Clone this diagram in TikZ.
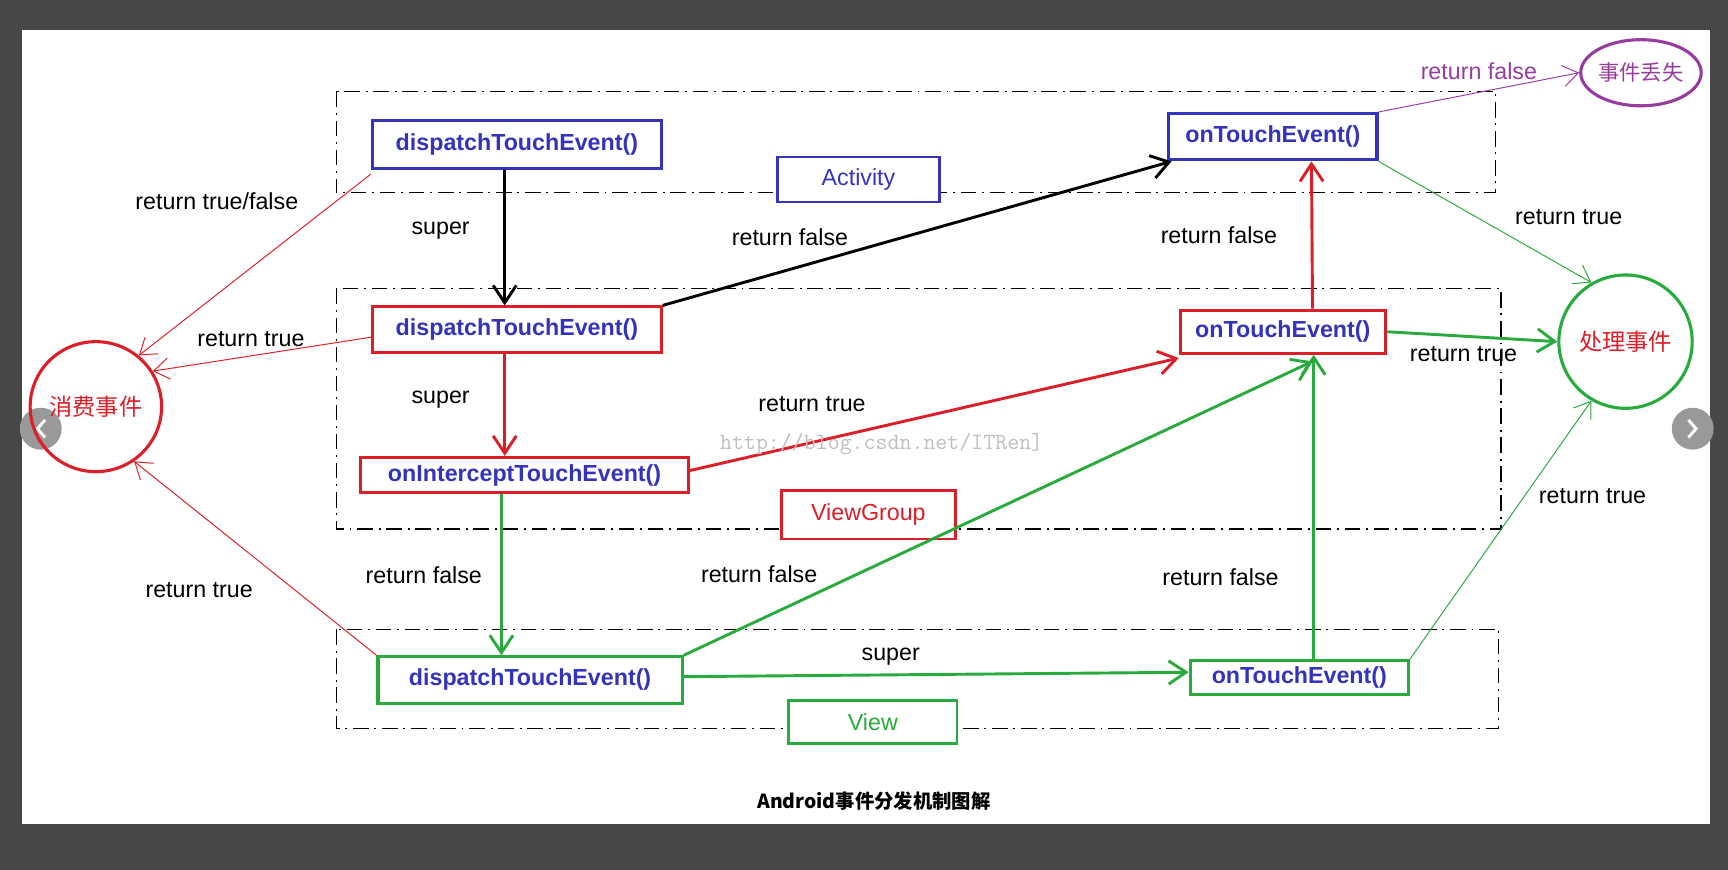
\documentclass[tikz,border=0pt]{standalone}
\usepackage{fontspec}
\setmainfont{Liberation Sans}
\newfontfamily\cjk{Noto Sans CJK SC}
\usetikzlibrary{arrows.meta, shapes.geometric}
\definecolor{boxblue}{RGB}{51,51,187}
\definecolor{boxred}{RGB}{220,30,40}
\definecolor{boxgreen}{RGB}{40,170,60}
\definecolor{lostpurple}{RGB}{150,60,160}
\tikzset{
    fn/.style={draw, line width=1.6pt, text=boxblue, font=\fontsize{12}{14}\selectfont\bfseries, inner sep=0pt},
    layer/.style={draw, fill=white, line width=1.3pt, font=\fontsize{12}{14}\selectfont, inner sep=0pt},
    lbl/.style={font=\fontsize{12}{14}\selectfont},
    zone/.style={dashed, dash pattern=on 8pt off 3pt on 1pt off 3pt, line width=0.6pt},
    thick arrow/.style={line width=1.5pt, -{Straight Barb[length=9pt,width=12pt]}},
    thin arrow/.style={line width=0.5pt, -{Straight Barb[length=8pt,width=11pt]}}
}
\begin{document}
\begin{tikzpicture}[x=0.02cm, y=-0.02cm]
    \useasboundingbox (0,0) rectangle (1568,789);
    \fill[black!72] (0,0) rectangle (1568,789);
    \fill[white] (20,27) rectangle (1552,748);
    \fill[black!40] (37,389) circle (19) (1536,389) circle (19);
    \draw[white, line width=1.5pt] (41,381) -- (34,389) -- (41,397) (1532,381) -- (1539,389) -- (1532,397);

    % layers
    \draw[zone] (305,83) rectangle (1357,175);
    \draw[zone] (305,262) rectangle (1362,480);
    \draw[zone] (305,571) rectangle (1360,661);

    \node[fn, draw=boxblue, minimum width=262*0.02cm, minimum height=43*0.02cm] (adisp) at (469,131) {dispatchTouchEvent()};
    \node[fn, draw=boxblue, minimum width=189*0.02cm, minimum height=42*0.02cm] (atouch) at (1155,124) {onTouchEvent()};
    \node[layer, draw=boxblue, text=boxblue, minimum width=147*0.02cm, minimum height=41*0.02cm] (alabel) at (779,163) {Activity};

    \node[fn, draw=boxred, minimum width=262*0.02cm, minimum height=41*0.02cm] (gdisp) at (469,299) {dispatchTouchEvent()};
    \node[fn, draw=boxred, minimum width=186*0.02cm, minimum height=39*0.02cm] (gtouch) at (1164,301) {onTouchEvent()};
    \node[fn, draw=boxred, minimum width=297*0.02cm, minimum height=32*0.02cm] (gint) at (476,431) {onInterceptTouchEvent()};
    \node[layer, draw=boxred, text=boxred, minimum width=158*0.02cm, minimum height=44*0.02cm] (glabel) at (788,467) {ViewGroup};

    \node[fn, draw=boxgreen, minimum width=276*0.02cm, minimum height=42*0.02cm] (vdisp) at (481,617) {dispatchTouchEvent()};
    \node[fn, draw=boxgreen, minimum width=198*0.02cm, minimum height=31*0.02cm] (vtouch) at (1179,615) {onTouchEvent()};
    \node[layer, draw=boxgreen, text=boxgreen, minimum width=153*0.02cm, minimum height=39*0.02cm] (vlabel) at (792,655) {View};

    \node[ellipse, draw=boxred, line width=1.6pt, text=boxred, font=\cjk\fontsize{12}{14}\selectfont, minimum width=95*0.02cm, minimum height=118*0.02cm, inner sep=0pt] (consume) at (87,369) {消费事件};
    \node[circle, draw=boxgreen, line width=1.6pt, text=boxred, font=\cjk\fontsize{12}{14}\selectfont, minimum size=121*0.02cm, inner sep=0pt] (handle) at (1475,310) {处理事件};
    \node[ellipse, draw=lostpurple, line width=1.6pt, text=lostpurple, font=\cjk\fontsize{11}{13}\selectfont, minimum width=102*0.02cm, minimum height=60*0.02cm, inner sep=0pt] (lost) at (1489,66) {事件丢失};

    % activity
    \draw[thick arrow, black] ([xshift=-11*0.02cm]adisp.south) -- ([xshift=-11*0.02cm]gdisp.north) node[lbl, pos=0.45, left=14pt] {super};
    \draw[thick arrow, black] (gdisp.north east) -- ([xshift=4*0.02cm]atouch.south west) node[lbl, pos=0.25, above=8pt] {return false};
    \draw[thin arrow, boxred] ([yshift=-4*0.02cm]adisp.south west) -- (consume.50) node[lbl, black, pos=0.15, left=16pt] {return true/false};
    \draw[thin arrow, lostpurple] (atouch.north east) -- (lost.west) node[lbl, pos=0.5, above=3pt] {return false};
    \draw[thin arrow, boxgreen] (atouch.south east) -- (handle.120) node[lbl, black, pos=0.6, above right=1pt] {return true};

    % viewgroup
    \draw[thin arrow, boxred] ([yshift=-7*0.02cm]gdisp.west) -- (consume.32) node[lbl, black, pos=0.55, above=1pt] {return true};
    \draw[thick arrow, boxred] ([xshift=-11*0.02cm]gdisp.south) -- ([xshift=-18*0.02cm]gint.north) node[lbl, black, pos=0.45, left=14pt] {super};
    \draw[thick arrow, boxred] ([yshift=4*0.02cm]gint.east) -- ([yshift=-3*0.02cm]gtouch.south west) node[lbl, black, pos=0.25, above=12pt] {return true};
    \draw[thick arrow, boxred] ([xshift=27*0.02cm]gtouch.north) -- ([xshift=35*0.02cm]atouch.south) node[lbl, black, midway, left=14pt] {return false};
    \draw[thick arrow, boxgreen] (gtouch.east) -- (handle.west) node[lbl, black, pos=0.45, below=1pt] {return true};
    \draw[thick arrow, boxgreen] ([xshift=-21*0.02cm]gint.south) -- ([xshift=-26*0.02cm]vdisp.north) node[lbl, black, pos=0.5, left=6pt] {return false};

    % view
    \draw[thin arrow, boxred] (vdisp.north west) -- (consume.-55) node[lbl, black, pos=0.45, below left=4pt] {return true};
    \draw[thick arrow, boxgreen] (vdisp.north east) -- ([xshift=27*0.02cm,yshift=-6*0.02cm]gtouch.south) node[lbl, black, pos=0.12, above=15pt] {return false};
    \draw[thick arrow, boxgreen] ([yshift=3*0.02cm]vdisp.east) -- ([yshift=5*0.02cm]vtouch.west) node[lbl, black, pos=0.41, above=1pt] {super};
    \draw[thick arrow, boxgreen] ([xshift=13*0.02cm]vtouch.north) -- ([xshift=28*0.02cm]gtouch.south) node[lbl, black, pos=0.27, left=14pt] {return false};
    \draw[thin arrow, boxgreen] (vtouch.north east) -- (handle.-120) node[lbl, black, pos=0.63, right=4pt] {return true};

    \node[text=black!25, font=\ttfamily\fontsize{12}{14}\selectfont] (mark) at (800,403) {http://blog.csdn.net/ITRen]};
    \node[font=\cjk\fontsize{10}{12}\selectfont\bfseries] (title) at (793,727) {Android事件分发机制图解};
\end{tikzpicture}
\end{document}
